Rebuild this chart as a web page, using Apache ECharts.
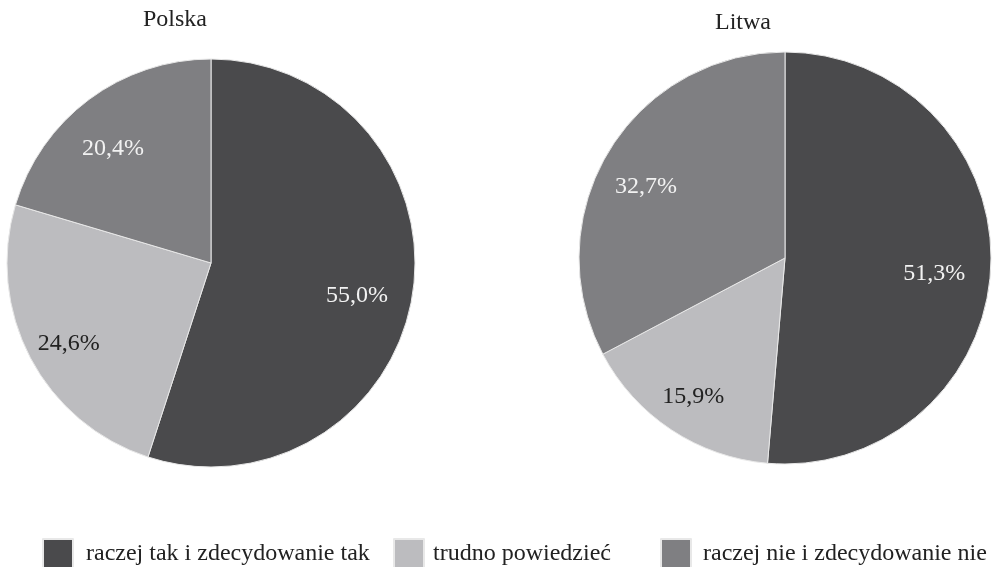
<!DOCTYPE html>
<html><head><meta charset="utf-8">
<script src="https://cdn.jsdelivr.net/npm/echarts@6/dist/echarts.min.js"></script>
<style>html,body{margin:0;padding:0;background:#fff}#c{width:993px;height:567px}</style>
</head><body><div id="c"></div>
<script>
const categories = ['raczej tak i zdecydowanie tak', 'trudno powiedzieć', 'raczej nie i zdecydowanie nie'];
const polskaValues = [55.0, 24.6, 20.4];
const litwaValues = [51.3, 15.9, 32.7];
const chartTitles = ['Polska', 'Litwa'];
const colors = ['#4a4a4c', '#bcbcbf', '#7f7f82'];
const labelColors = ['#f2f2f2', '#222222', '#f2f2f2'];
const font = '"Liberation Serif", "Times New Roman", serif';

function fmt(v){ return v.toFixed(1).replace('.', ',') + '%'; }

function baseData(vals){
  return vals.map((v,i)=>({name: categories[i], value: v, itemStyle:{color: colors[i]}}));
}
function labelData(vals){
  return vals.map((v,i)=>({name: categories[i], value: v,
    label:{color: labelColors[i]}}));
}
function pies(vals, center, r){
  return [
    {type:'pie', center: center, radius: [0, r], startAngle: 90, clockwise: true,
     data: baseData(vals), label:{show:false}, labelLine:{show:false},
     itemStyle:{borderColor:'#e8e8e8', borderWidth:1}, emphasis:{disabled:true}, animation:false},
    {type:'pie', center: center, radius: [r*0.48, r], startAngle: 90, clockwise: true,
     data: labelData(vals), silent:true, legendHoverLink:false,
     itemStyle:{color:'rgba(0,0,0,0)'},
     label:{show:true, position:'inside', formatter: p=>fmt(p.value), fontFamily: font, fontSize: 24, offset:[-6, 9]},
     labelLine:{show:false}, emphasis:{disabled:true}, animation:false}
  ];
}

const legendLefts = [37, 388, 655];
const legendTextPad = [8, 4, 7];

const chart = echarts.init(document.getElementById('c'));
chart.setOption({
  backgroundColor:'#fff',
  animation:false,
  title:[
    {text: chartTitles[0], left: 170, top: 3, textAlign:'center', textStyle:{fontFamily: font, fontSize: 24, fontWeight:'normal', color:'#222'}},
    {text: chartTitles[1], left: 738, top: 6, textAlign:'center', textStyle:{fontFamily: font, fontSize: 24, fontWeight:'normal', color:'#222'}}
  ],
  legend: categories.map((c,i)=>({
    data: [{name:c, itemStyle:{color: colors[i]}}],
    left: legendLefts[i], top: 533, itemWidth: 30, itemHeight: 29,
    icon:'rect', selectedMode:false,
    textStyle:{fontFamily: font, fontSize: 24, color:'#222', padding:[0,0,0,legendTextPad[i]]}
  })),
  series: [...pies(polskaValues, [211, 263], 204), ...pies(litwaValues, [785, 258], 206)]
});
</script></body></html>
